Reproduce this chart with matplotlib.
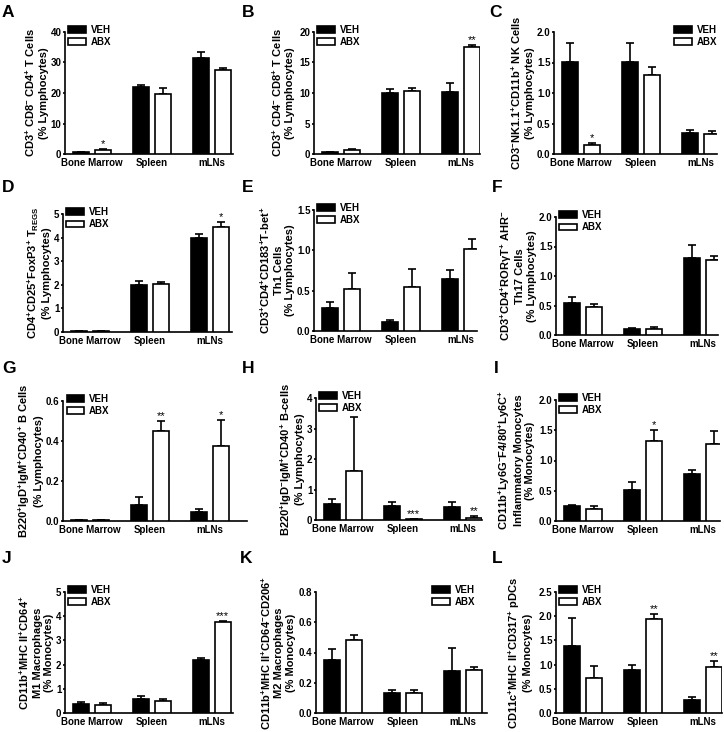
import numpy as np
import matplotlib
matplotlib.use("Agg")
import matplotlib.pyplot as plt
from matplotlib.patches import Patch
from matplotlib.ticker import FormatStrFormatter

plt.rcParams["font.family"] = "Liberation Sans"
plt.rcParams["font.weight"] = "bold"
plt.rcParams["axes.labelweight"] = "bold"
plt.rcParams["mathtext.fontset"] = "custom"
plt.rcParams["mathtext.rm"] = "Liberation Sans:bold"
plt.rcParams["mathtext.it"] = "Liberation Sans:bold"
plt.rcParams["mathtext.bf"] = "Liberation Sans:bold"
plt.rcParams["mathtext.default"] = "rm"

W, H = 724, 732
groups = ["Bone Marrow", "Spleen", "mLNs"]

# values (VEH = black, ABX = white), mean and upper SEM
a_veh = [0.5, 21.9, 31.6]
a_veh_err = [0.2, 0.7, 1.9]
a_abx = [1.2, 19.8, 27.4]
a_abx_err = [0.3, 1.7, 0.7]
a_stars = ["*", "", ""]

b_veh = [0.3, 10.0, 10.1]
b_veh_err = [0.1, 0.6, 1.5]
b_abx = [0.6, 10.4, 17.5]
b_abx_err = [0.15, 0.4, 0.4]
b_stars = ["", "", "**"]

c_veh = [1.51, 1.51, 0.345]
c_veh_err = [0.31, 0.31, 0.05]
c_abx = [0.15, 1.29, 0.33]
c_abx_err = [0.03, 0.13, 0.05]
c_stars = ["*", "", ""]

d_veh = [0.04, 1.98, 3.99]
d_veh_err = [0.01, 0.17, 0.17]
d_abx = [0.03, 2.03, 4.45]
d_abx_err = [0.01, 0.07, 0.21]
d_stars = ["", "", "*"]

e_veh = [0.29, 0.107, 0.65]
e_veh_err = [0.07, 0.025, 0.11]
e_abx = [0.52, 0.55, 1.02]
e_abx_err = [0.2, 0.22, 0.12]
e_stars = ["", "", ""]

f_veh = [0.55, 0.1, 1.31]
f_veh_err = [0.1, 0.02, 0.21]
f_abx = [0.47, 0.1, 1.27]
f_abx_err = [0.06, 0.03, 0.07]
f_stars = ["", "", ""]

g_veh = [0.004, 0.08, 0.047]
g_veh_err = [0.001, 0.038, 0.011]
g_abx = [0.004, 0.45, 0.375]
g_abx_err = [0.001, 0.05, 0.13]
g_stars = ["", "**", "*"]

h_veh = [0.54, 0.47, 0.44]
h_veh_err = [0.16, 0.13, 0.16]
h_abx = [1.61, 0.03, 0.08]
h_abx_err = [1.77, 0.01, 0.04]
h_stars = ["", "***", "**"]

i_veh = [0.25, 0.51, 0.78]
i_veh_err = [0.02, 0.14, 0.06]
i_abx = [0.2, 1.32, 1.27]
i_abx_err = [0.04, 0.18, 0.22]
i_stars = ["", "*", ""]

j_veh = [0.37, 0.58, 2.19]
j_veh_err = [0.07, 0.11, 0.07]
j_abx = [0.34, 0.5, 3.77]
j_abx_err = [0.09, 0.09, 0.03]
j_stars = ["", "", "***"]

k_veh = [0.353, 0.132, 0.278]
k_veh_err = [0.067, 0.02, 0.154]
k_abx = [0.48, 0.13, 0.286]
k_abx_err = [0.038, 0.02, 0.018]
k_stars = ["", "", ""]

l_veh = [1.38, 0.88, 0.27]
l_veh_err = [0.59, 0.12, 0.07]
l_abx = [0.72, 1.94, 0.96]
l_abx_err = [0.26, 0.1, 0.12]
l_stars = ["", "**", "**"]

panels = [
    ("A", a_veh, a_veh_err, a_abx, a_abx_err, a_stars,
     r"CD3$^{+}$ CD8$^{-}$ CD4$^{+}$ T Cells" "\n(% Lymphocytes)", [0, 10, 20, 30, 40], "%d"),
    ("B", b_veh, b_veh_err, b_abx, b_abx_err, b_stars,
     r"CD3$^{+}$ CD4$^{-}$ CD8$^{+}$ T Cells" "\n(% Lymphocytes)", [0, 5, 10, 15, 20], "%d"),
    ("C", c_veh, c_veh_err, c_abx, c_abx_err, c_stars,
     r"CD3$^{-}$NK1.1$^{+}$CD11b$^{+}$ NK Cells" "\n(% Lymphocytes)", [0, 0.5, 1.0, 1.5, 2.0], "%.1f"),
    ("D", d_veh, d_veh_err, d_abx, d_abx_err, d_stars,
     r"CD4$^{+}$CD25$^{+}$FoxP3$^{+}$ T$_{\mathrm{REGS}}$" "\n(% Lymphocytes)", [0, 1, 2, 3, 4, 5], "%d"),
    ("E", e_veh, e_veh_err, e_abx, e_abx_err, e_stars,
     r"CD3$^{+}$CD4$^{+}$CD183$^{+}$T-bet$^{+}$" "\nTh1 Cells\n(% Lymphocytes)", [0, 0.5, 1.0, 1.5], "%.1f"),
    ("F", f_veh, f_veh_err, f_abx, f_abx_err, f_stars,
     r"CD3$^{+}$CD4$^{+}$RORγT$^{+}$ AHR$^{-}$" "\nTh17 Cells\n(% Lymphocytes)", [0, 0.5, 1.0, 1.5, 2.0], "%.1f"),
    ("G", g_veh, g_veh_err, g_abx, g_abx_err, g_stars,
     r"B220$^{+}$IgD$^{+}$IgM$^{+}$CD40$^{+}$ B Cells" "\n(% Lymphocytes)", [0, 0.2, 0.4, 0.6], "%.1f"),
    ("H", h_veh, h_veh_err, h_abx, h_abx_err, h_stars,
     r"B220$^{+}$IgD$^{-}$IgM$^{+}$CD40$^{+}$ B-cells" "\n(% Lymphocytes)", [0, 1, 2, 3, 4], "%d"),
    ("I", i_veh, i_veh_err, i_abx, i_abx_err, i_stars,
     r"CD11b$^{+}$Ly6G$^{-}$F4/80$^{+}$Ly6C$^{+}$" "\nInflammatory Monocytes\n(% Monocytes)", [0, 0.5, 1.0, 1.5, 2.0], "%.1f"),
    ("J", j_veh, j_veh_err, j_abx, j_abx_err, j_stars,
     r"CD11b$^{+}$MHC II$^{+}$CD64$^{+}$" "\nM1 Macrophages\n(% Monocytes)", [0, 1, 2, 3, 4, 5], "%d"),
    ("K", k_veh, k_veh_err, k_abx, k_abx_err, k_stars,
     r"CD11b$^{+}$MHC II$^{+}$CD64$^{-}$CD206$^{+}$" "\nM2 Macrophages\n(% Monocytes)", [0, 0.2, 0.4, 0.6, 0.8], "%.1f"),
    ("L", l_veh, l_veh_err, l_abx, l_abx_err, l_stars,
     r"CD11c$^{+}$MHC II$^{+}$CD317$^{+}$ pDCs" "\n(% Monocytes)", [0, 0.5, 1.0, 1.5, 2.0, 2.5], "%.1f"),
]

# axes boxes in pixels (left, top, right, bottom)
boxes = {
    "A": (65, 32, 233, 154), "B": (314, 32, 480, 154), "C": (554, 32, 717, 154),
    "D": (63, 214, 232, 332), "E": (314, 210, 477, 331), "F": (556, 217, 718, 335),
    "G": (63, 401, 247, 521), "H": (316, 398, 482, 520), "I": (556, 400, 720, 521),
    "J": (65, 592, 233, 713), "K": (316, 592, 487, 713), "L": (556, 592, 722, 713),
}
label_pad = {"B": 3, "L": 4, "I": 2.5, "K": 2}
letters = {
    "A": (2, 5), "B": (242, 5), "C": (489, 5),
    "D": (2, 180), "E": (242, 180), "F": (492, 180),
    "G": (2, 361), "H": (242, 361), "I": (494, 361),
    "J": (2, 551), "K": (240, 551), "L": (492, 551),
}
legend_right = {"C": 1.0, "K": 0.93}

fig = plt.figure(figsize=(W / 100, H / 100), dpi=100)

x = np.arange(3)
off, bw = 0.18, 0.27
lw = 1.2

for letter, veh, veh_err, abx, abx_err, stars, ylabel, yticks, fmt in panels:
    l, t, r, b = boxes[letter]
    ax = fig.add_axes([l / W, 1 - b / H, (r - l) / W, (b - t) / H])
    ax.bar(x - off, veh, bw, color="black", edgecolor="black", linewidth=lw, zorder=3)
    ax.bar(x + off, abx, bw, color="white", edgecolor="black", linewidth=lw, zorder=3)
    ax.errorbar(x - off, veh, yerr=[np.zeros(3), veh_err], fmt="none", ecolor="black",
                elinewidth=lw, capsize=3, capthick=lw, zorder=2)
    ax.errorbar(x + off, abx, yerr=[np.zeros(3), abx_err], fmt="none", ecolor="black",
                elinewidth=lw, capsize=3, capthick=lw, zorder=2)
    for i, s in enumerate(stars):
        if s:
            ax.annotate(s, (x[i] + off, abx[i] + abx_err[i]), xytext=(0, 0),
                        textcoords="offset points", ha="center", va="bottom",
                        fontsize=8, fontweight="normal")

    ax.set_xlim(-27 / 60, (r - l - 27) / 60)
    ax.set_ylim(0, yticks[-1])
    ax.set_yticks(yticks)
    ax.yaxis.set_major_formatter(FormatStrFormatter(fmt))
    ax.set_xticks(x)
    ax.set_xticklabels(groups)
    ax.tick_params(axis="x", length=0, pad=3, labelsize=7)
    ax.tick_params(axis="y", length=1.8, width=lw, pad=0.8, labelsize=7)
    for side in ["top", "right"]:
        ax.spines[side].set_visible(False)
    for side in ["left", "bottom"]:
        ax.spines[side].set_linewidth(lw)
    ax.set_ylabel(ylabel, fontsize=8, labelpad=label_pad.get(letter, 1.2))

    handles = [Patch(facecolor="black", edgecolor="black", linewidth=lw),
               Patch(facecolor="white", edgecolor="black", linewidth=lw)]
    if letter in legend_right:
        loc, anchor = "upper right", (legend_right[letter], 1.06)
    else:
        loc, anchor = "upper left", (0.02, 1.06)
    ax.legend(handles, ["VEH", "ABX"], loc=loc, bbox_to_anchor=anchor, frameon=False,
              fontsize=7, handlelength=1.8, handleheight=0.7, handletextpad=0.5,
              labelspacing=0.25, borderpad=0, borderaxespad=0)

    lx, ly = letters[letter]
    fig.text(lx / W, 1 - ly / H, letter, fontsize=12.5, fontweight="bold", va="top", ha="left")

fig.savefig("out.png", dpi=100)
